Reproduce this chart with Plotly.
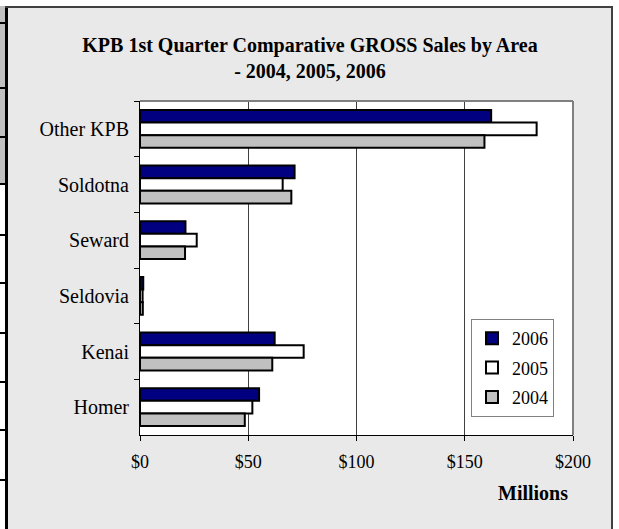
import plotly.graph_objects as go

# ---- data (millions of dollars) ----
areas = ["Other KPB", "Soldotna", "Seward", "Seldovia", "Kenai", "Homer"]
sales_2006 = [162.2, 71.4, 21.0, 1.5, 62.2, 55.0]
sales_2005 = [183.2, 65.9, 26.2, 1.2, 75.6, 51.9]
sales_2004 = [159.1, 69.9, 20.8, 1.3, 61.1, 48.4]
years = ["2006", "2005", "2004"]
x_ticks = [0, 50, 100, 150, 200]
x_ticktext = ["$0", "$50", "$100", "$150", "$200"]

W, H = 619, 529
L, R, T, B = 140, 573, 101, 435


def xp(px):
    return (px - L) / (R - L)


def yp(py):
    return (B - py) / (B - T)


FONT = "Liberation Serif, Times New Roman, serif"

fig = go.Figure()
series = [sales_2006, sales_2005, sales_2004]
colors = ["#000080", "#FFFFFF", "#C0C0C0"]
for i, (yr, vals, col) in enumerate(zip(years, series, colors)):
    fig.add_trace(go.Bar(
        y=areas, x=vals, name=yr, orientation="h",
        marker=dict(color=col, line=dict(color="#000000", width=2)),
        legendgroup=yr,
    ))

shapes = []
# outside white strips
shapes.append(dict(type="rect", xref="paper", yref="paper", x0=xp(0), x1=xp(W), y0=yp(0), y1=yp(6),
                   fillcolor="white", line=dict(width=0), layer="below"))
shapes.append(dict(type="rect", xref="paper", yref="paper", x0=xp(613), x1=xp(W), y0=yp(0), y1=yp(H),
                   fillcolor="white", line=dict(width=0), layer="below"))
# left spreadsheet strip
shapes.append(dict(type="rect", xref="paper", yref="paper", x0=xp(0), x1=xp(5), y0=yp(6), y1=yp(184),
                   fillcolor="#C0C0C0", line=dict(width=0), layer="below"))
shapes.append(dict(type="rect", xref="paper", yref="paper", x0=xp(0), x1=xp(5), y0=yp(184), y1=yp(H),
                   fillcolor="white", line=dict(width=0), layer="below"))
for yy in [23, 88, 137, 184, 235, 283, 333, 382, 430, 480]:
    shapes.append(dict(type="line", xref="paper", yref="paper", x0=xp(0), x1=xp(5), y0=yp(yy), y1=yp(yy),
                       line=dict(color="black", width=2)))
# chart frame
shapes.append(dict(type="line", xref="paper", yref="paper", x0=xp(6.5), x1=xp(6.5), y0=yp(6), y1=yp(H),
                   line=dict(color="black", width=3)))
shapes.append(dict(type="line", xref="paper", yref="paper", x0=xp(5), x1=xp(613), y0=yp(7), y1=yp(7),
                   line=dict(color="#404040", width=2)))
shapes.append(dict(type="line", xref="paper", yref="paper", x0=xp(612), x1=xp(612), y0=yp(6), y1=yp(H),
                   line=dict(color="#404040", width=2)))
# plot area top/right border
shapes.append(dict(type="line", xref="paper", yref="paper", x0=0, x1=1, y0=1, y1=1,
                   line=dict(color="#808080", width=2)))
shapes.append(dict(type="line", xref="paper", yref="paper", x0=1, x1=1, y0=0, y1=1,
                   line=dict(color="#808080", width=2)))

fig.update_layout(
    width=W, height=H,
    margin=dict(l=L, r=W - R, t=T, b=H - B, pad=0),
    paper_bgcolor="#E9E9E9",
    plot_bgcolor="#FFFFFF",
    font=dict(family=FONT, size=18, color="black"),
    barmode="group", bargap=0.32, bargroupgap=0,
    title=dict(text="<b>KPB 1st Quarter Comparative GROSS Sales by Area<br>- 2004, 2005, 2006</b>",
               x=310 / W, xref="container", xanchor="center",
               y=1 - 52 / H, yref="container", yanchor="top",
               font=dict(family=FONT, size=20, color="black")),
    xaxis=dict(range=[0, 200], tickvals=x_ticks, ticktext=x_ticktext,
               showline=True, linecolor="black", linewidth=1,
               ticks="outside", ticklen=5, tickcolor="black",
               showgrid=True, gridcolor="#404040", gridwidth=1, zeroline=False,
               tickfont=dict(family=FONT, size=18), ticklabelstandoff=5, fixedrange=True),
    yaxis=dict(categoryorder="array", categoryarray=areas, autorange="reversed",
               showline=True, linecolor="black", linewidth=1,
               ticks="outside", ticklen=5, tickcolor="black", tickson="boundaries",
               showgrid=False, tickfont=dict(family=FONT, size=20), ticklabelstandoff=6,
               fixedrange=True),
    legend=dict(x=xp(554), y=yp(319), xanchor="right", yanchor="top",
                bgcolor="white", bordercolor="#808080", borderwidth=1,
                font=dict(family=FONT, size=18, color="black"),
                traceorder="grouped", tracegroupgap=3, itemwidth=30),
    shapes=shapes,
    annotations=[dict(text="<b>Millions</b>", xref="paper", yref="paper",
                      x=xp(533), y=yp(493), xanchor="center", yanchor="middle",
                      showarrow=False, font=dict(family=FONT, size=20, color="black"))],
)

fig.write_html("out.html", config={"displayModeBar": False},
               post_script="document.body.style.margin='0';document.body.style.padding='0';")
